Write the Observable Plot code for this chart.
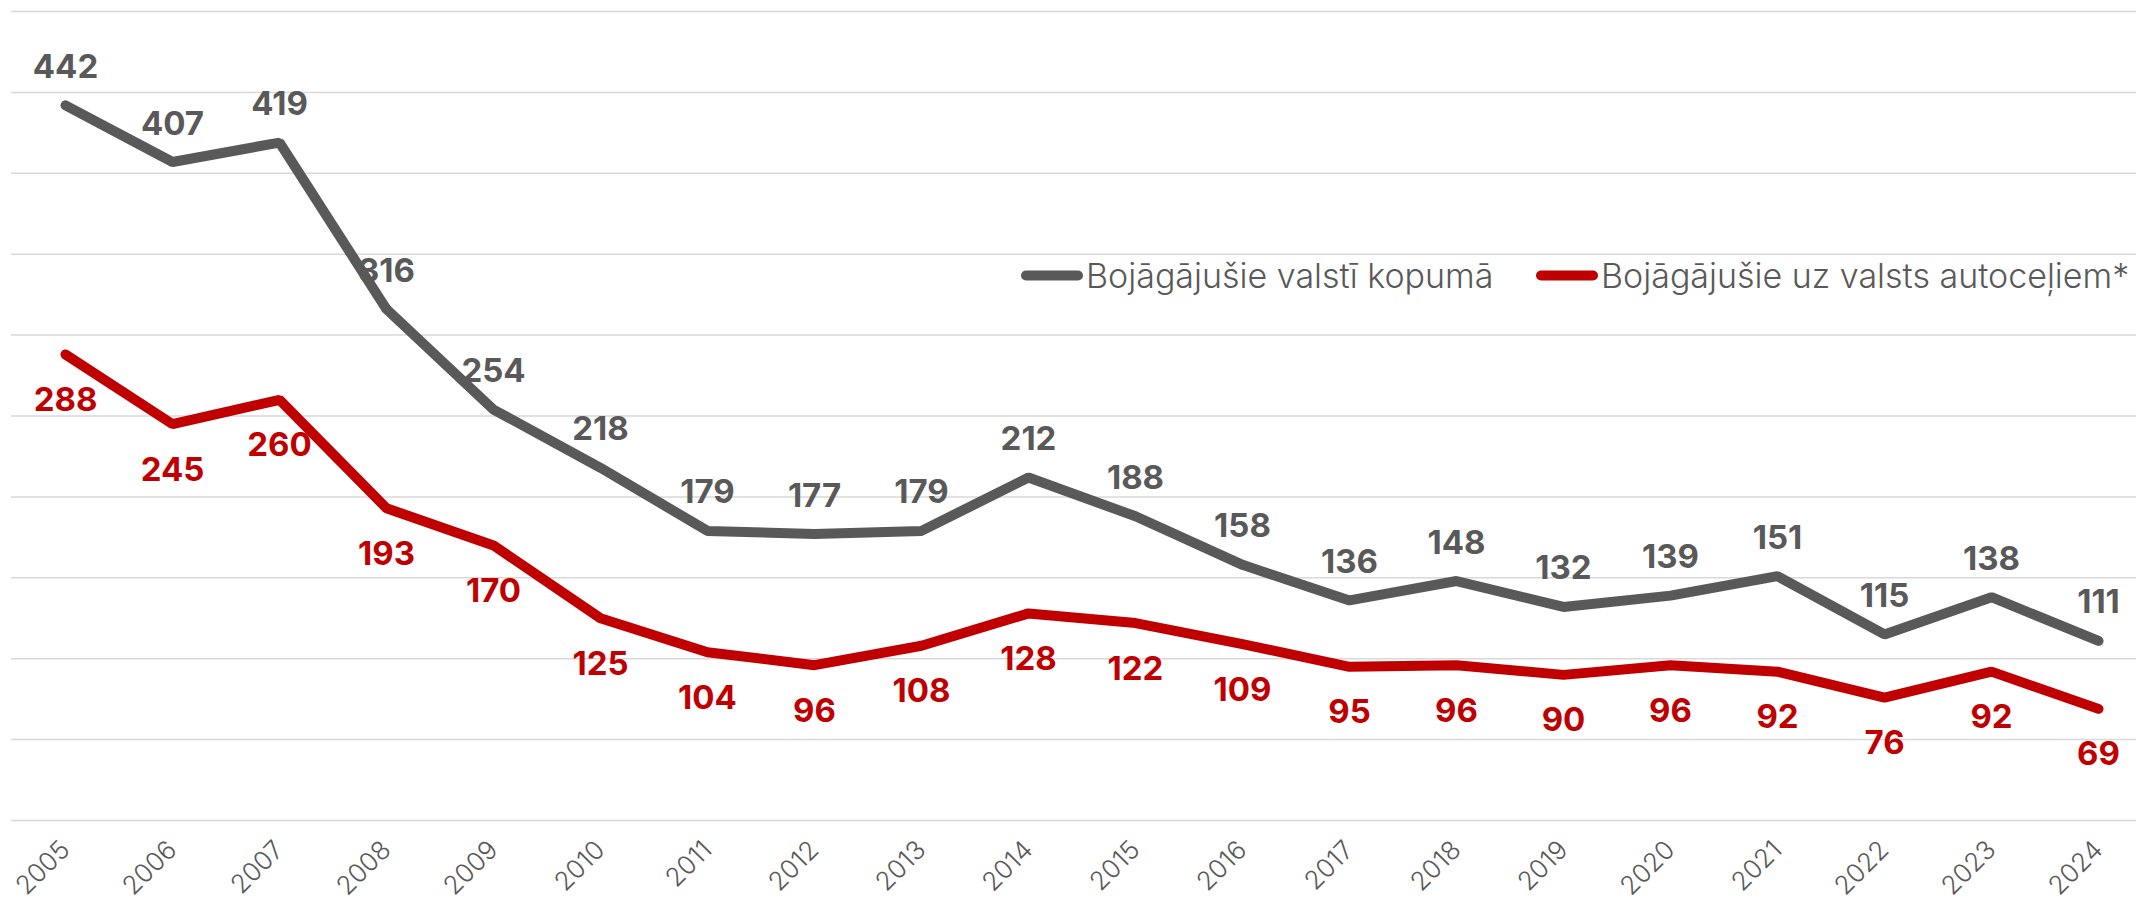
<!DOCTYPE html>
<html>
<head>
<meta charset="utf-8">
<script src="https://cdn.jsdelivr.net/npm/d3@7"></script>
<script src="https://cdn.jsdelivr.net/npm/@observablehq/plot@0.6"></script>
<style>
  html, body { margin: 0; padding: 0; background: #fff; overflow: hidden; }
  #wrap { position: relative; width: 2136px; height: 906px; }
  .lg { position: absolute; display: flex; align-items: center; font-family: Inter, sans-serif; font-weight: 300;
        font-size: 34px; color: #595959; white-space: nowrap; transform: translateY(-50%); }
  .sw { width: 62px; height: 10px; border-radius: 5px; margin-right: 3px; }
</style>
</head>
<body>
<div id="wrap"></div>
<script>
const years = [2005, 2006, 2007, 2008, 2009, 2010, 2011, 2012, 2013, 2014,
               2015, 2016, 2017, 2018, 2019, 2020, 2021, 2022, 2023, 2024];
const totalValues = [442, 407, 419, 316, 254, 218, 179, 177, 179, 212,
                     188, 158, 136, 148, 132, 139, 151, 115, 138, 111];
const roadValues = [288, 245, 260, 193, 170, 125, 104, 96, 108, 128,
                    122, 109, 95, 96, 90, 96, 92, 76, 92, 69];
const seriesNames = ["Bojāgājušie valstī kopumā", "Bojāgājušie uz valsts autoceļiem*"];
const seriesColors = ["#595959", "#C00000"];

const data = [
  ...years.map((y, i) => ({year: y, value: totalValues[i], series: seriesNames[0]})),
  ...years.map((y, i) => ({year: y, value: roadValues[i], series: seriesNames[1]}))
];
const total = data.filter(d => d.series === seriesNames[0]);
const roads = data.filter(d => d.series === seriesNames[1]);

const chart = Plot.plot({
  width: 2136,
  height: 906,
  marginTop: 11,
  marginBottom: 86,
  marginLeft: 11,
  marginRight: 0,
  style: {fontFamily: "Inter, sans-serif", background: "#fff"},
  x: {type: "point", domain: years, range: [65, 2098], padding: 0},
  y: {domain: [0, 500], axis: null},
  color: {domain: seriesNames, range: seriesColors},
  marks: [
    Plot.gridY({ticks: 10, stroke: "#d9d9d9", strokeOpacity: 1, strokeWidth: 1.5}),
    Plot.axisX({tickSize: 0, tickRotate: -45, tickPadding: 25, fontSize: 26, fontWeight: 300,
                fill: "#595959", tickFormat: d => String(d), label: null}),
    Plot.line(data, {x: "year", y: "value", z: "series", stroke: "series", strokeWidth: 10,
                     strokeLinecap: "round", strokeLinejoin: "miter"}),
    Plot.text(total, {x: "year", y: "value", text: d => String(d.value), dy: -38,
                      fill: seriesColors[0], fontSize: 33, fontWeight: 700}),
    Plot.text(roads, {x: "year", y: "value", text: d => String(d.value), dy: 46,
                      fill: seriesColors[1], fontSize: 33, fontWeight: 700})
  ]
});
const wrap = document.getElementById("wrap");
wrap.appendChild(chart);

const legendLefts = [1021, 1536];
seriesNames.forEach((name, i) => {
  const item = document.createElement("div");
  item.className = "lg";
  item.style.left = legendLefts[i] + "px";
  item.style.top = "275px";
  const sw = document.createElement("span");
  sw.className = "sw";
  sw.style.background = seriesColors[i];
  const tx = document.createElement("span");
  tx.textContent = name;
  item.appendChild(sw);
  item.appendChild(tx);
  wrap.appendChild(item);
});
</script>
</body>
</html>
